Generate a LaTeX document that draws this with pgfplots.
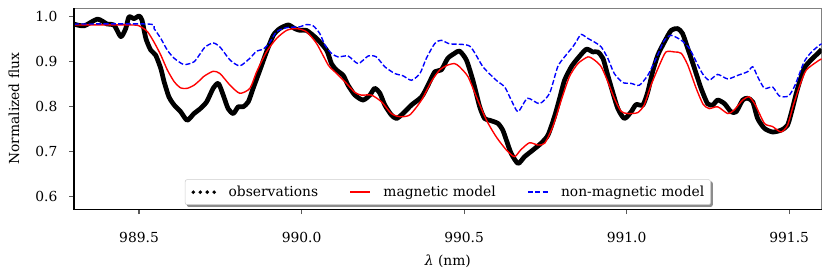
\documentclass[border=0pt]{standalone}
\usepackage{fontspec}
\setmainfont{DejaVu Serif}
\usepackage{pgfplots}
\pgfplotsset{compat=1.18}
\usetikzlibrary{backgrounds}

\pgfplotstableread{
x y
989.300 0.984
989.331 0.980
989.372 0.995
989.402 0.984
989.423 0.982
989.444 0.956
989.459 0.974
989.469 1.000
989.485 0.996
989.500 1.002
989.509 0.993
989.521 0.952
989.536 0.926
989.551 0.915
989.567 0.885
989.577 0.856
989.592 0.822
989.608 0.804
989.628 0.789
989.648 0.770
989.669 0.785
989.687 0.795
989.708 0.811
989.728 0.841
989.744 0.852
989.759 0.826
989.774 0.796
989.790 0.785
989.805 0.800
989.820 0.800
989.836 0.811
989.851 0.841
989.872 0.882
989.892 0.922
989.913 0.959
989.933 0.974
989.959 0.982
989.979 0.974
989.995 0.970
990.015 0.970
990.046 0.952
990.077 0.926
990.092 0.896
990.107 0.882
990.128 0.870
990.143 0.848
990.164 0.826
990.189 0.815
990.210 0.826
990.225 0.841
990.241 0.830
990.256 0.804
990.276 0.782
990.292 0.774
990.312 0.785
990.338 0.804
990.369 0.822
990.389 0.848
990.410 0.878
990.430 0.882
990.450 0.908
990.471 0.919
990.486 0.924
990.507 0.904
990.527 0.859
990.548 0.800
990.563 0.774
990.579 0.770
990.604 0.763
990.619 0.748
990.630 0.726
990.645 0.696
990.666 0.674
990.686 0.689
990.712 0.704
990.737 0.719
990.758 0.737
990.778 0.778
990.794 0.819
990.809 0.859
990.830 0.889
990.850 0.908
990.876 0.928
990.896 0.922
990.911 0.922
990.927 0.908
990.942 0.870
990.957 0.833
990.973 0.796
990.993 0.774
991.014 0.789
991.029 0.805
991.050 0.804
991.065 0.833
991.080 0.878
991.096 0.915
991.116 0.944
991.137 0.970
991.157 0.974
991.172 0.963
991.188 0.930
991.208 0.887
991.229 0.841
991.249 0.807
991.265 0.804
991.280 0.815
991.301 0.807
991.321 0.789
991.337 0.789
991.357 0.815
991.372 0.819
991.388 0.811
991.403 0.774
991.424 0.752
991.449 0.744
991.475 0.748
991.495 0.759
991.510 0.796
991.526 0.841
991.546 0.885
991.567 0.904
991.593 0.922
991.600 0.928
}\obs

\pgfplotstableread{
x y
989.300 0.982
989.480 0.982
989.505 0.978
989.526 0.967
989.546 0.944
989.567 0.915
989.587 0.882
989.608 0.856
989.628 0.842
989.648 0.841
989.669 0.848
989.687 0.859
989.700 0.868
989.728 0.879
989.749 0.874
989.780 0.848
989.810 0.830
989.841 0.841
989.862 0.878
989.892 0.922
989.923 0.952
989.954 0.970
989.985 0.974
990.015 0.967
990.046 0.941
990.082 0.893
990.102 0.878
990.133 0.856
990.164 0.832
990.184 0.826
990.215 0.826
990.246 0.811
990.276 0.785
990.302 0.778
990.333 0.782
990.369 0.815
990.399 0.856
990.425 0.882
990.450 0.893
990.471 0.896
990.486 0.889
990.512 0.867
990.538 0.822
990.569 0.770
990.599 0.733
990.630 0.704
990.655 0.689
990.674 0.704
990.701 0.720
990.727 0.715
990.748 0.719
990.773 0.756
990.799 0.815
990.824 0.867
990.850 0.896
990.881 0.911
990.901 0.904
990.922 0.889
990.942 0.856
990.962 0.819
990.983 0.790
991.003 0.785
991.034 0.787
991.054 0.804
991.075 0.848
991.101 0.893
991.121 0.922
991.147 0.922
991.168 0.919
991.188 0.893
991.214 0.841
991.235 0.806
991.254 0.796
991.280 0.800
991.311 0.785
991.331 0.793
991.357 0.815
991.377 0.822
991.396 0.804
991.424 0.763
991.449 0.756
991.475 0.744
991.495 0.759
991.513 0.804
991.533 0.848
991.553 0.882
991.593 0.904
991.600 0.906
}\magn

\pgfplotstableread{
x y
989.300 0.984
989.530 0.984
989.546 0.974
989.567 0.952
989.587 0.926
989.608 0.908
989.638 0.894
989.669 0.900
989.690 0.920
989.703 0.933
989.728 0.942
989.749 0.933
989.780 0.904
989.810 0.891
989.841 0.908
989.862 0.924
989.882 0.928
989.903 0.944
989.923 0.967
989.954 0.976
989.995 0.978
990.015 0.983
990.036 0.980
990.056 0.963
990.072 0.937
990.092 0.919
990.112 0.911
990.143 0.913
990.174 0.896
990.205 0.913
990.230 0.911
990.256 0.889
990.287 0.874
990.312 0.869
990.338 0.859
990.364 0.874
990.384 0.908
990.410 0.941
990.430 0.948
990.456 0.940
990.517 0.935
990.558 0.889
990.599 0.859
990.625 0.844
990.645 0.815
990.666 0.789
990.695 0.819
990.732 0.807
990.763 0.830
990.788 0.889
990.809 0.911
990.834 0.933
990.845 0.945
990.860 0.961
990.881 0.952
990.901 0.944
990.922 0.933
990.942 0.908
990.962 0.874
990.988 0.854
991.014 0.852
991.039 0.848
991.065 0.870
991.091 0.908
991.116 0.948
991.137 0.959
991.168 0.948
991.193 0.930
991.219 0.893
991.235 0.872
991.254 0.859
991.280 0.872
991.311 0.862
991.342 0.870
991.372 0.878
991.388 0.889
991.403 0.867
991.424 0.841
991.449 0.844
991.470 0.824
991.498 0.824
991.518 0.848
991.546 0.900
991.569 0.922
991.593 0.937
991.600 0.940
}\nonmag

\begin{document}
\begin{tikzpicture}
\begin{axis}[
  name=main,
  scale only axis,
  width=538.3bp, height=144.7bp,
  xmin=989.3, xmax=991.6, ymin=0.572, ymax=1.019,
  xtick={989.5,990,990.5,991,991.5},
  ytick={0.6,0.7,0.8,0.9,1.0},
  tick align=outside,
  major tick length=3.5bp,
  xtick pos=left, ytick pos=left,
  tick style={color=black!65, line width=0.8bp},
  axis line style={color=black!50, line width=0.8bp},
  /pgf/number format/assume math mode=true,
  xticklabel style={yshift=-9.5bp, /pgf/number format/.cd, fixed, fixed zerofill, precision=1, 1000 sep={}},
  yticklabel style={xshift=-5bp, /pgf/number format/.cd, fixed, fixed zerofill, precision=1},
  xlabel={\textit{λ} (nm)},
  ylabel={Normalized flux},
  xlabel style={at={(axis description cs:0.5,0)}, anchor=center, yshift=-37.5bp},
  ylabel style={at={(axis description cs:0,0.5)}, anchor=center, yshift=43.3bp},
  legend columns=3,
  legend cell align=left,
  legend style={name=leg, at={(0.5,0)}, anchor=south, yshift=3.1bp,
    draw=black!20, fill=white, rounded corners=1.5bp,
    inner xsep=4.5bp, inner ysep=1.5bp,
    nodes={inner xsep=0pt, inner ysep=3bp},
    /tikz/every odd column/.append style={column sep=9bp},
    /tikz/every even column/.append style={column sep=22.6bp}},
  clip=true,
]
\addplot[black, line width=3.4bp, line join=round, smooth, tension=0.4,
  legend image code/.code={
    \fill[black, draw=none] (1.4bp,0bp) circle (1.4bp);
    \fill[black, draw=none] (6.4bp,0bp) circle (1.4bp);
    \fill[black, draw=none] (11.4bp,0bp) circle (1.4bp);
    \fill[black, draw=none] (16.4bp,0bp) circle (1.4bp);}]
  table[x=x,y=y] {\obs};
\addlegendentry{observations}
\addplot[red, line width=1bp, smooth, tension=0.4,
  legend image code/.code={\draw[red, line width=1bp] (0bp,0bp) -- (14.4bp,0bp);}]
  table[x=x,y=y] {\magn};
\addlegendentry{magnetic model}
\addplot[blue, line width=1bp, dash pattern=on 3.7bp off 1.6bp, smooth, tension=0.4,
  legend image code/.code={\draw[blue, line width=1bp, dash pattern=on 3.7bp off 1.6bp] (0bp,0bp) -- (14.4bp,0bp);}]
  table[x=x,y=y] {\nonmag};
\addlegendentry{non-magnetic model}
\end{axis}
\begin{scope}[on background layer]
\fill[black!45, rounded corners=1.5bp] ([xshift=1.4bp,yshift=-1.4bp]leg.south west) rectangle ([xshift=1.4bp,yshift=-1.4bp]leg.north east);
\end{scope}
\draw[black, line width=1.1bp] (main.north west) -- (main.south west) -- (main.south east);
\pgfresetboundingbox
\path[use as bounding box] ([xshift=-53.3bp,yshift=-48.7bp]main.south west) rectangle ([xshift=6bp,yshift=6bp]main.north east);
\end{tikzpicture}
\end{document}
